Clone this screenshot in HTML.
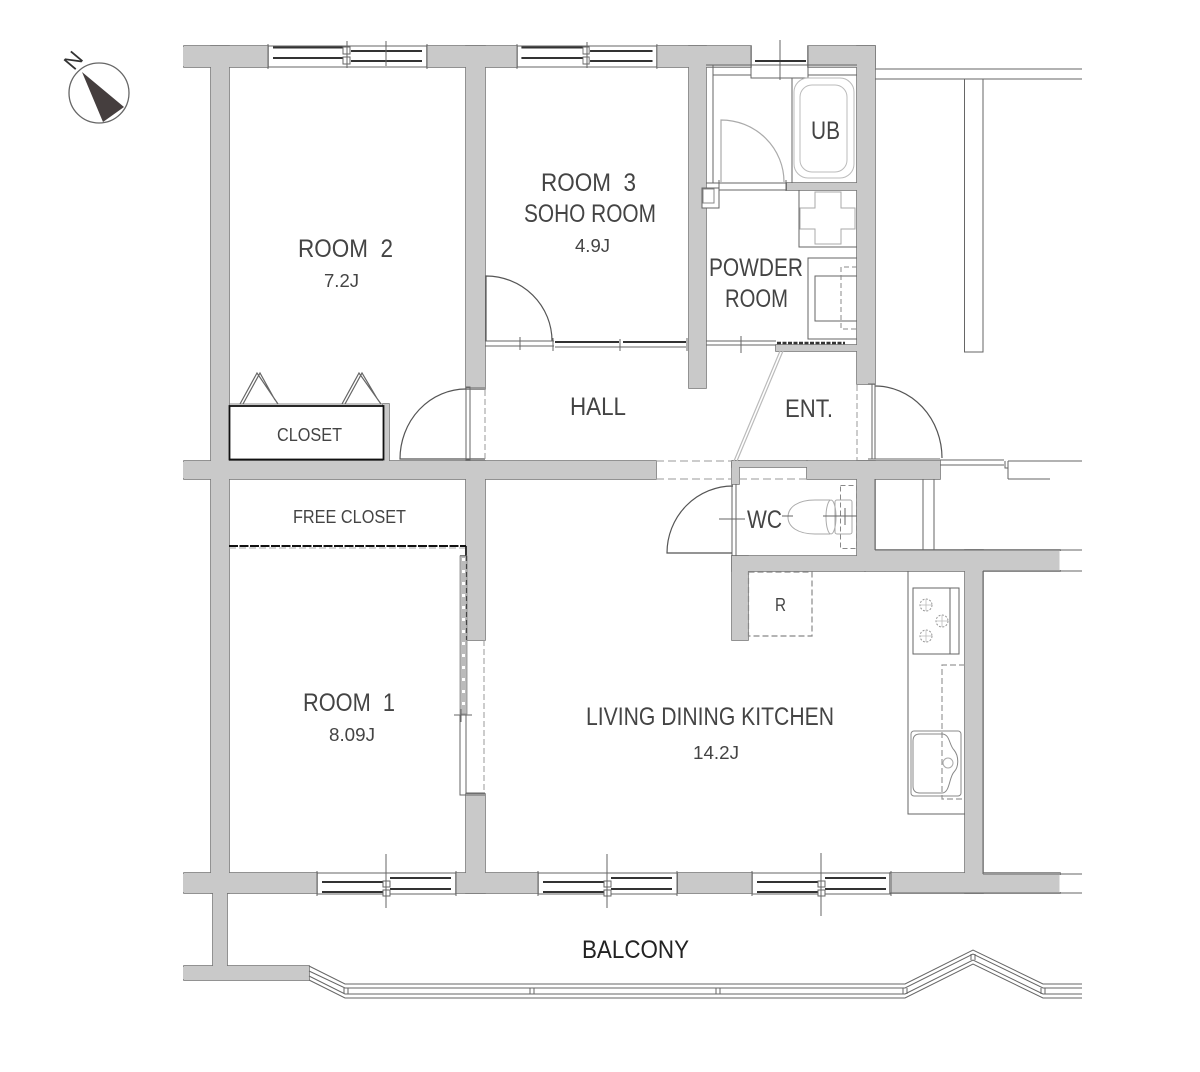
<!DOCTYPE html>
<html><head><meta charset="utf-8"><style>
html,body{margin:0;padding:0;background:#fff}
svg{display:block;filter:blur(.35px)}
text{font-family:"Liberation Sans",sans-serif;fill:#444;white-space:pre}
.l{fill:none;stroke:#666;stroke-width:1}
.g{fill:none;stroke:#aaa;stroke-width:1}
.d{fill:none;stroke:#888;stroke-width:1.2;stroke-dasharray:6 3}
.k{fill:none;stroke:#333;stroke-width:1.5}
</style></head><body>
<svg width="1200" height="1072" viewBox="0 0 1200 1072" xmlns="http://www.w3.org/2000/svg">
<defs>
<g id="w" fill="#c9c9c9">
<rect x="184" y="46" width="84" height="21"/><rect x="427" y="46" width="90" height="21"/><rect x="657" y="46" width="94" height="21"/><rect x="808" y="46" width="67" height="21"/>
<rect x="211" y="46" width="18" height="847"/>
<rect x="466" y="46" width="19" height="343"/><rect x="466" y="461" width="19" height="179"/><rect x="466" y="794" width="19" height="99"/>
<rect x="689" y="46" width="17" height="342"/>
<rect x="857" y="46" width="18" height="338"/><rect x="857" y="461" width="18" height="100"/>
<rect x="184" y="461" width="472" height="18"/>
<rect x="807" y="461" width="133" height="18"/>
<rect x="732" y="461" width="75" height="6"/><rect x="732" y="461" width="7" height="23"/>
<rect x="732" y="556" width="133" height="15"/><rect x="865" y="550" width="195" height="21"/>
<rect x="732" y="556" width="16" height="84"/>
<rect x="965" y="550" width="18" height="343"/>
<rect x="184" y="873" width="133" height="20"/><rect x="456" y="873" width="82" height="20"/><rect x="678" y="873" width="74" height="20"/><rect x="890" y="873" width="170" height="20"/>
<rect x="213" y="873" width="14" height="100"/>
<rect x="184" y="966" width="125" height="14"/>
<rect x="787" y="183" width="70" height="7"/>
<rect x="776" y="345" width="81" height="6"/>
<rect x="383" y="404" width="6" height="57"/>
</g>
<g id="win">
<path class="l" d="M0 0H139M0 21H139M0 -2V23M139 -2V23"/>
<path d="M5 9H67M5 19H67M73 5H134M73 16H134" stroke="#333" stroke-width="2" fill="none"/>
<rect x="66" y="8" width="7" height="6" fill="#fff" stroke="#666"/><rect x="66" y="17" width="7" height="6" fill="#fff" stroke="#666"/>
</g>
<g id="wint">
<path class="l" d="M0 0H159M0 21H159M0 -2V23M159 -2V23"/>
<path d="M5 1.500H77M5 12H77M83 5H154M83 15H154" stroke="#333" stroke-width="2" fill="none"/>
<rect x="75" y="1" width="7" height="7" fill="#fff" stroke="#666"/><rect x="75" y="11" width="7" height="7" fill="#fff" stroke="#666"/>
</g>
</defs>
<use href="#w" stroke="#777" stroke-width="1.6"/>
<use href="#w"/>
<!-- soften cut wall ends -->
<g fill="#c9c9c9"><rect x="183" y="47" width="2" height="19"/><rect x="183" y="462" width="2" height="16"/><rect x="183" y="874" width="2" height="18"/><rect x="183" y="967" width="2" height="12"/></g>
<g fill="#fff"><rect x="1059.500" y="551" width="3" height="19"/><rect x="1059.500" y="875" width="3" height="17"/></g>
<!-- top windows -->
<use href="#wint" x="268" y="46"/>
<path class="l" d="M347 41V68M386 41V66"/>
<g transform="translate(517 46) scale(.88 1)"><use href="#wint"/></g>
<path class="l" d="M587 42V68"/>
<!-- bottom windows -->
<use href="#win" x="317" y="873"/><use href="#win" x="538" y="873"/><use href="#win" x="752" y="873"/>
<path class="l" d="M386 854V908M607 854V908M821 853V916"/>
<!-- bath window -->
<path class="l" d="M751 46V78H808V46M751 65H808M780 40V80"/>
<path d="M755 61H806" stroke="#333" stroke-width="2"/>
<!-- bath -->
<path class="l" d="M706 65H751M808 65H857M713 65V183M713 75H751M808 75H857M792 78V183"/>
<rect x="794" y="78" width="60" height="100" rx="14" fill="none" stroke="#bbb"/>
<rect x="800" y="85" width="47" height="87" rx="12" fill="none" stroke="#bbb"/>
<path d="M721 182V120A63 62 0 0 1 784 182" fill="none" stroke="#aaa" stroke-width="1.2"/>
<path class="l" d="M706 183H787M719 190H787M719 180V191M786 180V191"/>
<rect x="702" y="188" width="17" height="20" fill="#fff" stroke="#666"/><rect x="703" y="189" width="11" height="14" fill="#fff" stroke="#888"/>
<!-- washer -->
<path class="l" d="M799 190V247H857"/>
<path class="g" d="M815 192H841V208H855V229H841V244H815V229H800V208H815Z"/>
<!-- vanity -->
<path class="l" d="M857 258H808V339H857M857 276H815V321H857"/>
<path d="M857 267H841V329H857" fill="none" stroke="#888" stroke-dasharray="5 3"/>
<path class="l" d="M706 341H776M706 345H776M741 336V353"/>
<path d="M777 343H845" stroke="#333" stroke-width="2.500" stroke-dasharray="4 1.500"/>
<!-- room 3 door & partition -->
<path d="M486 341V276A66 65 0 0 1 552 341" fill="none" stroke="#555" stroke-width="1.2"/>
<path class="l" d="M485 341H554M485 346H554M520 337V350"/>
<path d="M555 342H619M623 342H686" stroke="#333" stroke-width="2"/>
<path class="l" d="M555 347H686M553 338V351M620 339V351M687 338V351"/>
<!-- diagonal -->
<path d="M780 351L734 461M783 351L737 461" fill="none" stroke="#bbb" stroke-width="1.2"/>
<!-- hall door -->
<path d="M466 389A66 70 0 0 0 400 459H485" fill="none" stroke="#555" stroke-width="1.2"/>
<path class="l" d="M466 387H470V460H466ZM466 388H485"/>
<path d="M485 390V460" fill="none" stroke="#999" stroke-dasharray="6 3"/>
<!-- closet -->
<rect x="229.500" y="406" width="154" height="53.500" fill="#fff" stroke="#111" stroke-width="1.800"/>
<path d="M229 404H383" stroke="#888"/>
<path d="M240 404L257 373L278 404M243 404L260 373L275 400M342 404L359 373L381 404M345 404L362 373L378 400" fill="none" stroke="#666" stroke-width="1.2"/>
<!-- free closet -->
<path d="M229 546H466" stroke="#111" stroke-width="2" stroke-dasharray="9 1.500"/>
<path d="M229 548H466" stroke="#aaa" stroke-dasharray="7 3"/>
<path d="M466 546V556H460" fill="none" stroke="#111" stroke-width="1.600"/>
<rect x="460" y="556" width="7" height="158" fill="#bbb" stroke="#888" stroke-width=".8"/>
<path d="M463.500 558V712" stroke="#fff" stroke-width="3" stroke-dasharray="3 9"/>
<path d="M466.500 556V640" stroke="#444" stroke-width="1.200" stroke-dasharray="5 3"/>
<path class="l" d="M454 715H472M461 709V722"/>
<path class="l" d="M460 715V795H485M466 715V793H485"/>
<path d="M484 640V793" fill="none" stroke="#999" stroke-dasharray="6 3"/>
<!-- entrance -->
<path d="M875 386A67 72 0 0 1 942 458" fill="none" stroke="#555" stroke-width="1.2"/>
<path class="l" d="M872 384V459M875 384V459M868 384H875M868 459H940"/>
<path d="M857 385V460" fill="none" stroke="#999" stroke-dasharray="6 3"/>
<path class="l" d="M940 460H1004M940 465H1004M1005 461V468H1008V461M1008 461V479M1008 461H1082M1008 479H1050M875 479V550M923 479V550M934 479V550"/>
<!-- dashed connector -->
<path d="M656 461H732M656 479H732M739 479H807" fill="none" stroke="#999" stroke-dasharray="8 4"/>
<!-- WC -->
<path class="l" d="M732 484V556M736 484V556"/>
<path d="M733 486A66 67 0 0 0 667 553H732" fill="none" stroke="#555" stroke-width="1.2"/>
<path class="l" d="M719 519H745"/>
<path d="M830 500H815C798 500 788 507 788 517C788 527 798 534 815 534H830" fill="none" stroke="#aaa"/>
<ellipse cx="831" cy="517" rx="5" ry="17" fill="none" stroke="#aaa"/>
<rect x="835" y="500" width="17" height="34" rx="2" fill="none" stroke="#aaa"/>
<rect x="840.500" y="485.500" width="16" height="63" fill="none" stroke="#888" stroke-dasharray="5 3"/>
<path class="l" d="M782 516H793M823 516H857M845 508V525"/>
<!-- R -->
<path d="M748.500 572H812V636H748.500Z" fill="none" stroke="#888" stroke-width="1.2" stroke-dasharray="6 3"/>
<!-- kitchen -->
<path class="l" d="M908 571V814H965"/>
<rect x="913" y="588" width="46" height="66" fill="none" stroke="#666"/>
<path class="l" d="M950 588V654"/>
<g fill="none" stroke="#999" stroke-dasharray="2 1.500"><circle cx="926" cy="605" r="6"/><circle cx="942" cy="621" r="6"/><circle cx="926" cy="636" r="6"/></g>
<path d="M926 599V611M920 605H932M926 630V642M920 636H932M942 615V627M936 621H948" stroke="#bbb" stroke-width=".8"/>
<path d="M965 665H942V799H965" fill="none" stroke="#999" stroke-width="1.2" stroke-dasharray="6 3"/>
<rect x="911" y="731" width="50" height="65" rx="3" fill="none" stroke="#888"/>
<path d="M920 734H942C950 734 949 745 954 750C959 756 959 767 954 772C949 777 950 793 942 793H920C915 793 913 790 913 786V741C913 737 915 734 920 734Z" fill="none" stroke="#888"/>
<circle cx="948" cy="763" r="5" fill="none" stroke="#aaa"/>
<!-- right exterior -->
<path class="l" d="M875 69H1082M875 79H1082M964.500 79V352H983V79"/>
<path class="l" d="M875 550H1082M983 571H1082M983 571V874M983 874H1082M890 893H1082"/>
<!-- balcony rail -->
<g fill="none" stroke="#666" stroke-width="1">
<path d="M309 966L345 984H905L973 950L1043 984H1082"/>
<path d="M309 971L345 988H905L973 954L1043 988H1082"/>
<path d="M309 976L345 994H905L973 960L1043 994H1082"/>
<path d="M309 980L345 998H905L973 964L1043 998H1082"/>
<path d="M344 988V994M348 988V994M530 988V994M534 988V994M716 988V994M720 988V994M903 988V994M907 988V994M971 954V960M975 954V960M1041 988V994M1045 988V994"/>
</g>
<!-- compass -->
<circle cx="99" cy="93" r="30" fill="#fff" stroke="#666" stroke-width="1.300"/>
<path d="M82 72L124 107L103 122Z" fill="#453e3e"/>
<text transform="translate(73 60) rotate(-50)" x="-8" y="8" font-size="22" style="fill:#333">N</text>
<!-- labels -->
<g font-size="25">
<text x="298" y="257" textLength="95" lengthAdjust="spacingAndGlyphs">ROOM  2</text>
<text x="541" y="191" textLength="95" lengthAdjust="spacingAndGlyphs">ROOM  3</text>
<text x="524" y="222" textLength="132" lengthAdjust="spacingAndGlyphs">SOHO ROOM</text>
<text x="709" y="276" textLength="94" lengthAdjust="spacingAndGlyphs">POWDER</text>
<text x="725" y="307" textLength="63" lengthAdjust="spacingAndGlyphs">ROOM</text>
<text x="811" y="139" textLength="29" lengthAdjust="spacingAndGlyphs">UB</text>
<text x="570" y="415" textLength="56" lengthAdjust="spacingAndGlyphs">HALL</text>
<text x="785" y="417" textLength="48" lengthAdjust="spacingAndGlyphs">ENT.</text>
<text x="747" y="528" textLength="35" lengthAdjust="spacingAndGlyphs">WC</text>
<text x="303" y="711" textLength="92" lengthAdjust="spacingAndGlyphs">ROOM  1</text>
<text x="586" y="725" textLength="248" lengthAdjust="spacingAndGlyphs">LIVING DINING KITCHEN</text>
<text x="582" y="958" textLength="107" lengthAdjust="spacingAndGlyphs" style="fill:#222">BALCONY</text>
</g>
<g font-size="18">
<text x="324" y="287" textLength="35" lengthAdjust="spacingAndGlyphs">7.2J</text>
<text x="575" y="252" textLength="35" lengthAdjust="spacingAndGlyphs">4.9J</text>
<text x="329" y="741" textLength="46" lengthAdjust="spacingAndGlyphs">8.09J</text>
<text x="693" y="759" textLength="46" lengthAdjust="spacingAndGlyphs">14.2J</text>
<text x="277" y="441" textLength="65" lengthAdjust="spacingAndGlyphs">CLOSET</text>
<text x="293" y="523" textLength="113" lengthAdjust="spacingAndGlyphs">FREE CLOSET</text>
<text x="775" y="611" textLength="11" lengthAdjust="spacingAndGlyphs">R</text>
</g>
</svg>
</body></html>
